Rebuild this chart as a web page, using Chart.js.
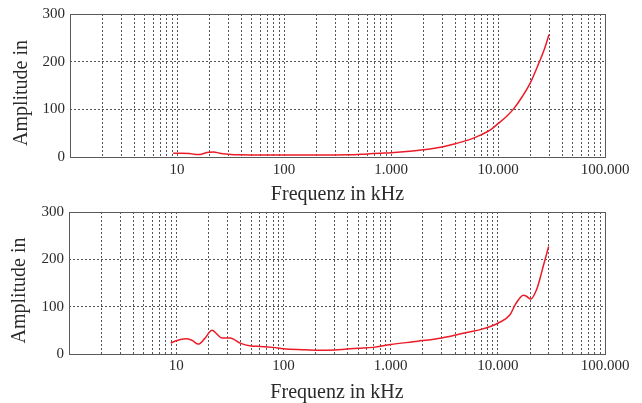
<!DOCTYPE html>
<html>
<head>
<meta charset="utf-8">
<script src="https://cdn.jsdelivr.net/npm/chart.js@4"></script>
<style>
  body { margin: 0; background: #fff; }
  #wrap { position: relative; width: 642px; height: 403px; }
  canvas { position: absolute; left: 0; }
  #top { top: 0; }
  #bottom { top: 198px; }
</style>
</head>
<body>
<div id="wrap">
  <canvas id="top" width="642" height="205"></canvas>
  <canvas id="bottom" width="642" height="205"></canvas>
</div>
<script>
// frequencies in kHz, amplitudes
const topFreq = [9.2, 11, 13, 15, 16.5, 18, 20, 22, 25, 30, 40, 60, 100, 200, 400, 600, 800, 1000, 1500, 2000, 3000, 4000, 5500, 7000, 8500, 10000, 12000, 14000, 17000, 20000, 24000, 27000, 30000];
const topAmp = [8, 8, 7.5, 5.5, 5.5, 8, 10, 10.5, 8, 6, 4.5, 4, 4, 4, 4.5, 6.5, 8, 9, 12, 15, 21, 28, 37, 47, 57, 70, 85, 101, 128, 155, 196, 225, 257];

const bottomFreq = [8.9, 10, 12.3, 14, 16.1, 18.5, 21.6, 24, 26.6, 31.7, 35, 39.5, 50, 61, 80, 100, 150, 205, 300, 390, 500, 690, 1000, 1800, 3000, 3850, 5000, 7000, 8500, 10000, 13000, 14500, 16000, 17300, 18500, 20300, 23000, 24800, 26500, 29800];
const bottomAmp = [23, 28, 32, 29, 21, 33, 50, 42, 34, 34, 30, 23, 17, 16, 14, 11, 9, 8, 8.5, 10.5, 12, 14, 20, 27, 34, 39, 45, 52, 58, 65, 83, 104, 118, 124, 122, 116, 136, 160, 185, 227];

const xTickValues = [];
for (let e = 0; e <= 4; e++) {
    for (let m = 1; m <= 9; m++) xTickValues.push(m * Math.pow(10, e));
}
xTickValues.push(100000);
const xLabelValues = [10, 100, 1000, 10000, 100000];

const yTitle = 'Amplitude in   ';
const xTitle = 'Frequenz in kHz';

const serif = 'Liberation Serif';
const textColor = '#2a2a2a';

function fmt(v) {
    return String(v).replace(/\B(?=(\d{3})+(?!\d))/g, '.');
}

const frame = {
    id: 'frame',
    afterDraw(chart) {
        const { ctx, chartArea: a } = chart;
        ctx.save();
        ctx.strokeStyle = '#5a5a5a';
        ctx.lineWidth = 1;
        ctx.strokeRect(Math.round(a.left) + 0.5, Math.round(a.top) + 0.5,
            Math.round(a.right - a.left), Math.round(a.bottom - a.top));
        ctx.restore();
    }
};

function makeChart(id, freq, amp, opts) {
    const ctx = document.getElementById(id).getContext('2d');
    new Chart(ctx, {
        type: 'line',
        data: {
            datasets: [{
                data: freq.map((f, i) => ({ x: f, y: amp[i] })),
                borderColor: '#ea1c28',
                borderWidth: 1.5,
                pointRadius: 0,
                cubicInterpolationMode: 'monotone',
                fill: false
            }]
        },
        options: {
            responsive: false,
            animation: false,
            layout: { padding: { top: 14, right: 37, left: 0, bottom: 0 } },
            plugins: { legend: { display: false }, tooltip: { enabled: false } },
            scales: {
                x: {
                    type: 'logarithmic',
                    min: 1,
                    max: 100000,
                    afterBuildTicks: s => { s.ticks = xTickValues.map(v => ({ value: v })); },
                    afterFit: s => { s.height = opts.xHeight; },
                    grid: { color: '#555', lineWidth: 1, drawTicks: false },
                    border: { display: false, dash: [2, 2] },
                    ticks: {
                        autoSkip: false,
                        maxRotation: 0,
                        padding: opts.xPad,
                        color: textColor,
                        font: { family: serif, size: 15 },
                        callback: v => xLabelValues.includes(v) ? fmt(v) : ''
                    },
                    title: {
                        display: true,
                        text: xTitle,
                        color: textColor,
                        font: { family: serif, size: 20, lineHeight: 1 },
                        padding: { top: 0, bottom: opts.xTitlePad }
                    }
                },
                y: {
                    min: 0,
                    max: 300,
                    afterFit: s => { s.width = opts.yWidth; },
                    grid: { color: '#555', lineWidth: 1, drawTicks: false },
                    border: { display: false, dash: [2, 2] },
                    ticks: {
                        stepSize: 100,
                        padding: 5,
                        color: textColor,
                        font: { family: serif, size: 15 }
                    },
                    title: {
                        display: true,
                        text: yTitle,
                        color: textColor,
                        font: { family: serif, size: 20, lineHeight: 1 },
                        padding: { top: opts.yTitlePad, bottom: 0 }
                    }
                }
            }
        },
        plugins: [frame]
    });
}

document.addEventListener('DOMContentLoaded', () => {
    makeChart('top', topFreq, topAmp, { xHeight: 48, xPad: 4, xTitlePad: 0, yWidth: 70, yTitlePad: 11.5 });
    makeChart('bottom', bottomFreq, bottomAmp, { xHeight: 49, xPad: 3, xTitlePad: 0.5, yWidth: 69, yTitlePad: 10 });
});
</script>
</body>
</html>
